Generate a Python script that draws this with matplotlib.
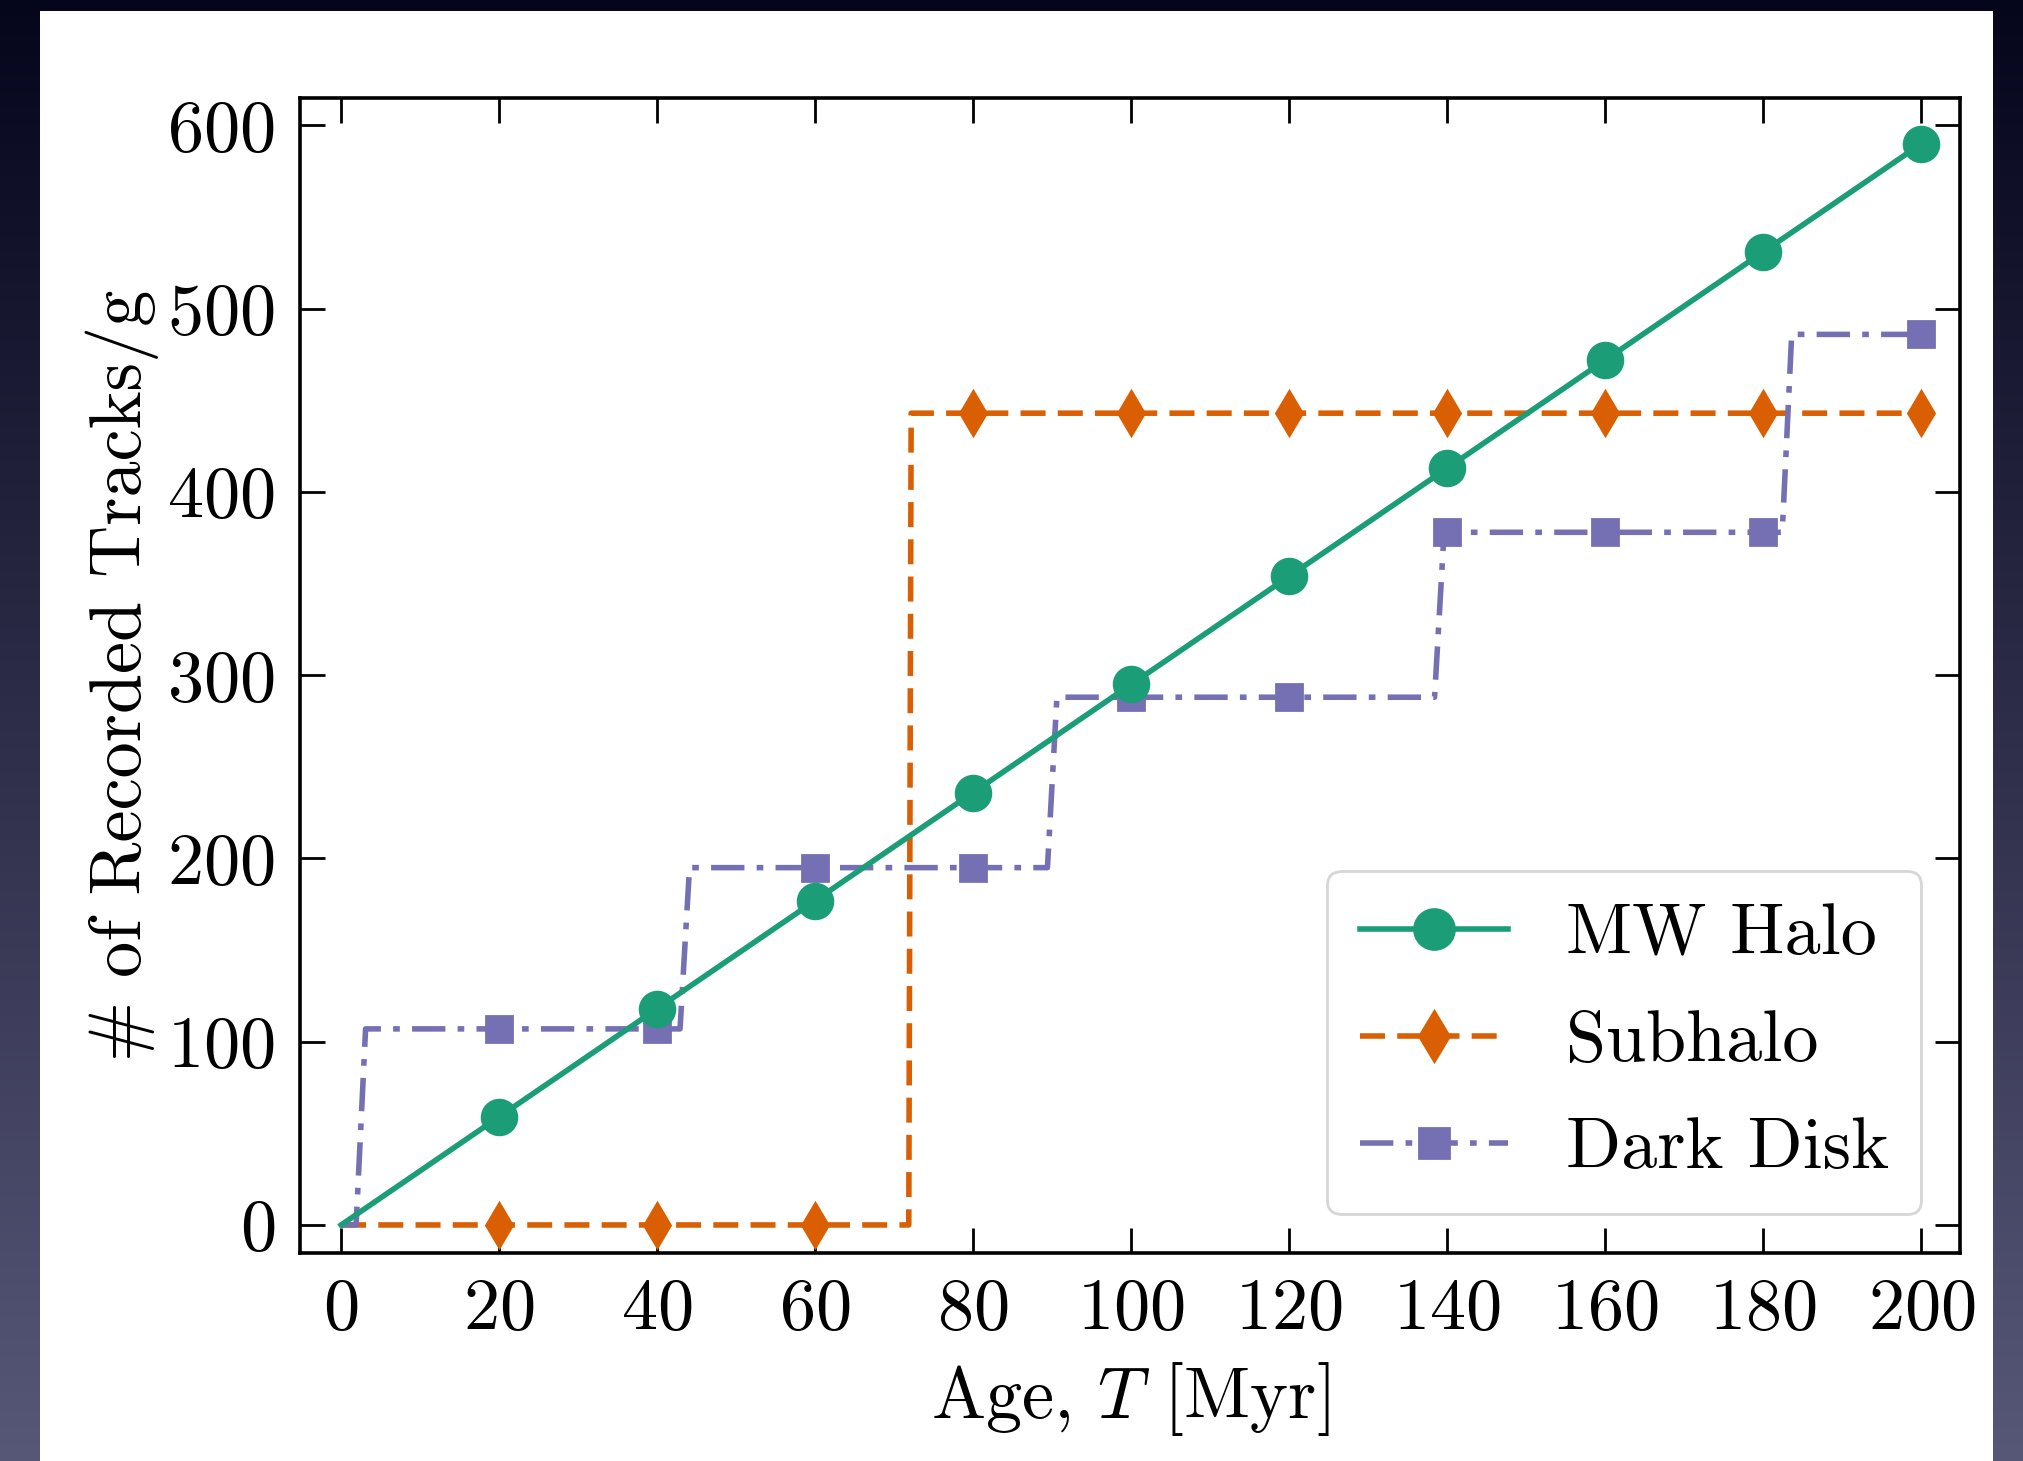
import numpy as np
import matplotlib
matplotlib.use("Agg")
import matplotlib.pyplot as plt
from matplotlib.patches import Rectangle

# ---- data -------------------------------------------------------------
ages = [0, 20, 40, 60, 80, 100, 120, 140, 160, 180, 200]          # Myr
mw_halo = [0, 59, 118, 177, 236, 295, 354, 413, 472, 531, 590]     # tracks/g

subhalo_jump_ages = [72]
subhalo_levels = [0, 443]

disk_jump_ages = [2.5, 43.5, 90, 139, 183]
disk_levels = [0, 107, 195, 288, 378, 486]

x_ticks = [0, 20, 40, 60, 80, 100, 120, 140, 160, 180, 200]
y_ticks = [0, 100, 200, 300, 400, 500, 600]

# ---- style ------------------------------------------------------------
plt.rcParams.update({
    "font.family": "serif",
    "font.serif": ["cmr10"],
    "mathtext.fontset": "cm",
    "axes.unicode_minus": False,
    "axes.formatter.use_mathtext": True,
})

C_HALO = "#1b9e77"
C_SUB = "#d95f02"
C_DISK = "#7570b3"


def step_curve(grid, jumps, levels, ramp=0.8):
    """Piecewise-constant curve with short linear ramps at each jump."""
    y = np.full_like(grid, levels[0], dtype=float)
    for j, (lo, hi) in zip(jumps, zip(levels[:-1], levels[1:])):
        frac = np.clip((grid - (j - ramp / 2)) / ramp, 0, 1)
        y += frac * (hi - lo)
    return y


grid = np.linspace(0, 200, 4001)
mark_idx = [int(np.argmin(np.abs(grid - a))) for a in ages[1:]]

sub_y = step_curve(grid, subhalo_jump_ages, subhalo_levels, ramp=0.3)
disk_y = step_curve(grid, disk_jump_ages, disk_levels, ramp=1.2)

W, H, DPI = 2024, 1461, 200
fig = plt.figure(figsize=(W / DPI, H / DPI), dpi=DPI)

# dark backdrop with a soft vertical gradient and a white card on top
bg = fig.add_axes([0, 0, 1, 1], zorder=-10)
grad = np.linspace(0, 1, 256)[:, None]
top_col = np.array([0.02, 0.02, 0.11])
bot_col = np.array([0.34, 0.34, 0.47])
img = top_col[None, None, :] * (1 - grad[..., None]) + bot_col[None, None, :] * grad[..., None]
img = np.repeat(img, 4, axis=1)
bg.imshow(img, aspect="auto", extent=[0, 1, 0, 1], origin="upper")
bg.add_patch(Rectangle((40 / W, 0), (1993 - 40) / W, 1 - 11 / H,
                       transform=bg.transAxes, facecolor="white",
                       edgecolor="none"))
bg.set_xlim(0, 1)
bg.set_ylim(0, 1)
bg.axis("off")

ax = fig.add_axes([300 / W, 1 - 1253 / H, (1960 - 300) / W, (1253 - 98) / H])
ax.set_facecolor("white")

ax.plot(ages, mw_halo, color=C_HALO, lw=2.0, marker="o", ms=12.5,
        markevery=list(range(1, len(ages))), label="MW Halo", zorder=3)
ax.plot(grid, sub_y, color=C_SUB, lw=2.0, ls=(0, (4.5, 2.2)), marker="d",
        ms=11, markevery=mark_idx, label="Subhalo", zorder=2)
ax.plot(grid, disk_y, color=C_DISK, lw=2.0, ls=(0, (6, 2.2, 1.2, 2.2)),
        marker="s", ms=9.5, markevery=mark_idx, label="Dark Disk", zorder=2)

ax.set_xlim(-5.2, 204.9)
ax.set_ylim(-15.3, 615)
ax.set_xticks(x_ticks)
ax.set_yticks(y_ticks)
ax.tick_params(which="major", direction="in", top=True, right=True,
               length=9, width=1.0, labelsize=26, pad=9)
ax.minorticks_off()
for s in ax.spines.values():
    s.set_linewidth(1.3)

ax.set_xlabel(r"Age, $T$ [Myr]", fontsize=26, labelpad=6)
ax.set_ylabel(r"# of Recorded Tracks/g", fontsize=26, labelpad=3)

leg = ax.legend(loc="lower right", fontsize=26, frameon=True, fancybox=True,
                handlelength=2.05, handletextpad=0.8, borderpad=0.45,
                labelspacing=0.58, markerscale=1.15, borderaxespad=0.0,
                bbox_to_anchor=(0.9767, 0.0335))
leg.get_frame().set_edgecolor("#cccccc")
leg.get_frame().set_linewidth(1.0)

fig.savefig("out.png", dpi=DPI)
